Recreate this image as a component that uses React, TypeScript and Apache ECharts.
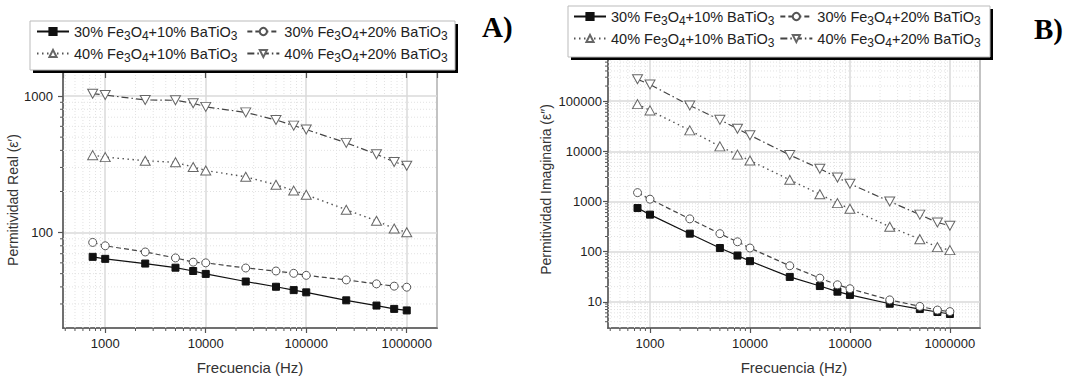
import React, { useEffect, useRef } from "react";
import * as echarts from "echarts";

// ---- data ----
const FREQ = [750, 1000, 2500, 5000, 7500, 10000, 25000, 50000, 75000, 100000, 250000, 500000, 750000, 1000000];

const NAMES = [
  "30% Fe3O4+10% BaTiO3",
  "30% Fe3O4+20% BaTiO3",
  "40% Fe3O4+10% BaTiO3",
  "40% Fe3O4+20% BaTiO3",
];

// A) Permitividad Real
const realA_30_10 = [66.4, 64.2, 59.3, 55.3, 52.3, 49.8, 43.8, 40.1, 37.9, 36.5, 31.9, 29.2, 27.6, 26.9];
const realA_30_20 = [84.7, 80.0, 72.1, 65.2, 60.7, 60.0, 55.0, 52.3, 50.3, 48.6, 45.0, 42.1, 40.5, 39.8];
const realA_40_10 = [369, 357, 336, 327, 302, 285, 256, 224, 203, 189, 147, 122, 107, 100.5];
const realA_40_20 = [1040, 1017, 936, 931, 886, 833, 759, 668, 607, 569, 454, 375, 329, 309];

// B) Permitividad Imaginaria
const imagB_30_10 = [739, 546, 228, 118, 83.5, 64.5, 31.3, 20.6, 15.9, 13.7, 9.14, 7.16, 6.25, 5.71];
const imagB_30_20 = [1500, 1110, 450, 228, 157, 118, 52.2, 29.6, 21.8, 18.2, 10.9, 8.09, 6.84, 6.37];
const imagB_40_10 = [87300, 65400, 26170, 12530, 8580, 6540, 2700, 1390, 926, 716, 313, 177, 123, 107];
const imagB_40_20 = [273500, 215000, 82000, 42400, 28250, 20870, 8460, 4500, 2995, 2254, 1000, 546, 380, 328];

// axis ranges
const X_MIN = 380;
const X_MAX = 2000000;
const YA_MIN = 20;
const YA_MAX = 1500;
const YB_MIN = 3;
const YB_MAX = 1000000;

// minor tick positions (2..9 x 10^k)
const minorBetween = (lo: number, hi: number) => {
  const out: number[] = [];
  for (let p = -2; p <= 7; p++) {
    for (let m = 2; m <= 9; m++) {
      const v = m * Math.pow(10, p);
      if (v > lo && v < hi) out.push(v);
    }
  }
  return out;
};
const X_MINOR = minorBetween(X_MIN, X_MAX);
const YA_MINOR = minorBetween(YA_MIN, YA_MAX);
const YB_MINOR = minorBetween(YB_MIN, YB_MAX);

const FONT = '"Liberation Sans", Arial, sans-serif';

const STYLES: any[] = [
  {
    symbol: "rect",
    symbolSize: 7,
    symbolRotate: 0,
    lineStyle: { color: "#111", width: 1.2, type: "solid" },
    itemStyle: { color: "#111", borderColor: "#111", borderWidth: 1 },
  },
  {
    symbol: "circle",
    symbolSize: 8,
    symbolRotate: 0,
    lineStyle: { color: "#444", width: 1.2, type: [5, 3] },
    itemStyle: { color: "#fff", borderColor: "#555", borderWidth: 1 },
  },
  {
    symbol: "triangle",
    symbolSize: [10, 9],
    symbolRotate: 0,
    lineStyle: { color: "#555", width: 1.4, type: [1.5, 3.5] },
    itemStyle: { color: "#fff", borderColor: "#666", borderWidth: 1 },
  },
  {
    symbol: "triangle",
    symbolSize: [10, 9],
    symbolRotate: 180,
    lineStyle: { color: "#444", width: 1.2, type: [7, 3, 1.5, 3] },
    itemStyle: { color: "#fff", borderColor: "#666", borderWidth: 1 },
  },
];

const richName = (name: string) => {
  const m = name.match(/^(\d+% )Fe3O4\+(\d+% )BaTiO3$/);
  if (!m) return name;
  return `{t|${m[1]}Fe}{s|3}{t|O}{s|4}{t|+${m[2]}BaTiO}{s|3}`;
};

const legendRich = {
  t: { fontSize: 14.5, color: "#222", fontFamily: FONT },
  s: { fontSize: 12, color: "#222", fontFamily: FONT, padding: [9, 0, 0, 0] },
};

const makeLegend = (names: string[], left: number, top: number, gap: number) => ({
  data: names,
  left,
  top,
  orient: "horizontal",
  itemWidth: 32,
  itemHeight: 9,
  itemGap: gap,
  padding: 0,
  selectedMode: false,
  formatter: richName,
  textStyle: { rich: legendRich, fontFamily: FONT },
  z: 5,
});

const minorSeries = (
  xIdx: number,
  yIdx: number,
  kind: "x" | "y",
  vals: number[],
  xMin: number,
  yMin: number
) => ({
  type: "custom",
  xAxisIndex: xIdx,
  yAxisIndex: yIdx,
  silent: true,
  clip: false,
  z: 1,
  data: vals.map((v) => (kind === "x" ? [v, yMin] : [xMin, v])),
  renderItem: (params: any, api: any) => {
    const cs = params.coordSys;
    const p = api.coord([api.value(0), api.value(1)]);
    if (kind === "x") {
      return {
        type: "group",
        children: [
          {
            type: "line",
            shape: { x1: p[0], y1: cs.y, x2: p[0], y2: cs.y + cs.height },
            style: { stroke: "#e2e2e2", lineWidth: 1, lineDash: [1, 2] },
          },
          {
            type: "line",
            shape: { x1: p[0], y1: cs.y + cs.height, x2: p[0], y2: cs.y + cs.height + 3 },
            style: { stroke: "#555", lineWidth: 1 },
          },
        ],
      };
    }
    return {
      type: "group",
      children: [
        {
          type: "line",
          shape: { x1: cs.x, y1: p[1], x2: cs.x + cs.width, y2: p[1] },
          style: { stroke: "#e2e2e2", lineWidth: 1, lineDash: [1, 2] },
        },
        {
          type: "line",
          shape: { x1: cs.x - 3, y1: p[1], x2: cs.x, y2: p[1] },
          style: { stroke: "#555", lineWidth: 1 },
        },
      ],
    };
  },
});

const fmt = (v: number) => String(Math.round(v));

const bottomAxis = (gridIndex: number) => ({
  type: "log",
  logBase: 10,
  gridIndex,
  min: X_MIN,
  max: X_MAX,
  name: "Frecuencia (Hz)",
  nameLocation: "middle",
  nameGap: 32,
  nameTextStyle: { fontSize: 15, color: "#333", fontFamily: FONT },
  axisLine: { show: true, onZero: false, lineStyle: { color: "#555", width: 1.5 } },
  axisTick: { show: true, inside: false, length: 5, lineStyle: { color: "#555", width: 1.2 } },
  axisLabel: {
    showMinLabel: false,
    showMaxLabel: false,
    fontSize: 13,
    color: "#222",
    margin: 9,
    fontFamily: FONT,
    formatter: fmt,
  },
  splitLine: { show: true, lineStyle: { color: "#dadada", width: 1.5 } },
  minorTick: { show: false },
});

const topAxis = (gridIndex: number) => ({
  type: "log",
  logBase: 10,
  gridIndex,
  min: X_MIN,
  max: X_MAX,
  position: "top",
  axisLine: { show: false },
  axisTick: { show: true, inside: true, length: 6, lineStyle: { color: "#555", width: 1.2 } },
  axisLabel: { show: false },
  splitLine: { show: false },
});

const leftAxis = (gridIndex: number, min: number, max: number, name: string, margin: number, nameGap: number) => ({
  type: "log",
  logBase: 10,
  gridIndex,
  min,
  max,
  name,
  nameLocation: "middle",
  nameGap,
  nameTextStyle: { fontSize: 14, color: "#333", fontFamily: FONT },
  axisLine: { show: true, onZero: false, lineStyle: { color: "#555", width: 1.5 } },
  axisTick: { show: true, inside: false, length: 5, lineStyle: { color: "#555", width: 1.2 } },
  axisLabel: {
    showMinLabel: false,
    showMaxLabel: false,
    fontSize: 13,
    color: "#222",
    margin,
    fontFamily: FONT,
    formatter: fmt,
  },
  splitLine: { show: true, lineStyle: { color: "#dadada", width: 1.5 } },
});

const dataSeries = (values: number[], idx: number, xIdx: number, yIdx: number) => ({
  type: "line",
  name: NAMES[idx],
  xAxisIndex: xIdx,
  yAxisIndex: yIdx,
  data: FREQ.map((f, i) => [f, values[i]]),
  symbol: STYLES[idx].symbol,
  symbolSize: STYLES[idx].symbolSize,
  symbolRotate: STYLES[idx].symbolRotate,
  showSymbol: true,
  showAllSymbol: true,
  lineStyle: STYLES[idx].lineStyle,
  itemStyle: STYLES[idx].itemStyle,
  z: 3,
  emphasis: { disabled: true },
});

export default function App() {
  const ref = useRef<HTMLDivElement>(null);

  useEffect(() => {
    if (!ref.current) return;
    const chart = echarts.init(ref.current, undefined, { renderer: "svg" });

    const option: any = {
      animation: false,
      backgroundColor: "#fff",
      textStyle: { fontFamily: FONT },
      grid: [
        { left: 63, top: 72, width: 374, height: 260, show: true, borderColor: "#555", borderWidth: 1.5, backgroundColor: "transparent" },
        { left: 608, top: 51, width: 372, height: 282, show: true, borderColor: "#555", borderWidth: 1.5, backgroundColor: "transparent" },
      ],
      xAxis: [bottomAxis(0), bottomAxis(1), topAxis(0), topAxis(1)],
      yAxis: [
        leftAxis(0, YA_MIN, YA_MAX, "Permitividad Real (\u03b5\u2032)", 10, 35),
        leftAxis(1, YB_MIN, YB_MAX, "Permitividad Imaginaria (\u03b5\u2033)", 6, 55),
      ],
      legend: [
        makeLegend([NAMES[0], NAMES[1]], 36, 24, 9),
        makeLegend([NAMES[2], NAMES[3]], 36, 46, 9),
        makeLegend([NAMES[0], NAMES[1]], 573, 9, 5),
        makeLegend([NAMES[2], NAMES[3]], 573, 31, 5),
      ],
      graphic: [
        { type: "rect", z: 4, shape: { x: 33, y: 24, width: 425, height: 49 }, style: { fill: "#000" } },
        { type: "rect", z: 4, shape: { x: 30, y: 21, width: 425, height: 49 }, style: { fill: "#fff", stroke: "#bbb", lineWidth: 1 } },
        { type: "rect", z: 4, shape: { x: 571, y: 9, width: 422, height: 51 }, style: { fill: "#000" } },
        { type: "rect", z: 4, shape: { x: 568, y: 6, width: 422, height: 51 }, style: { fill: "#fff", stroke: "#bbb", lineWidth: 1 } },
        {
          type: "text",
          z: 5,
          x: 482,
          y: 12,
          style: { text: "A)", fill: "#000", font: 'bold 29px "Liberation Serif", "Times New Roman", serif', verticalAlign: "top" },
        },
        {
          type: "text",
          z: 5,
          x: 1034,
          y: 14,
          style: { text: "B)", fill: "#000", font: 'bold 29px "Liberation Serif", "Times New Roman", serif', verticalAlign: "top" },
        },
      ],
      series: [
        minorSeries(0, 0, "x", X_MINOR, X_MIN, YA_MIN),
        minorSeries(0, 0, "y", YA_MINOR, X_MIN, YA_MIN),
        minorSeries(1, 1, "x", X_MINOR, X_MIN, YB_MIN),
        minorSeries(1, 1, "y", YB_MINOR, X_MIN, YB_MIN),
        dataSeries(realA_30_10, 0, 0, 0),
        dataSeries(realA_30_20, 1, 0, 0),
        dataSeries(realA_40_10, 2, 0, 0),
        dataSeries(realA_40_20, 3, 0, 0),
        dataSeries(imagB_30_10, 0, 1, 1),
        dataSeries(imagB_30_20, 1, 1, 1),
        dataSeries(imagB_40_10, 2, 1, 1),
        dataSeries(imagB_40_20, 3, 1, 1),
      ],
    };

    chart.setOption(option);
    return () => chart.dispose();
  }, []);

  return (
    <div
      ref={ref}
      style={{ position: "fixed", left: 0, top: 0, width: 1070, height: 380, background: "#fff" }}
    />
  );
}
